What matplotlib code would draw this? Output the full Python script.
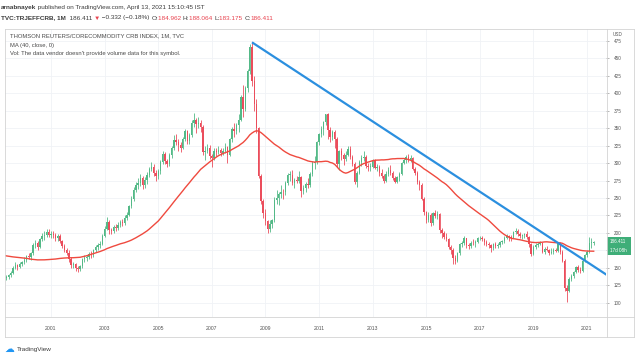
import numpy as np
import pandas as pd
import matplotlib
matplotlib.use("Agg")
import matplotlib.pyplot as plt
from matplotlib.lines import Line2D
from matplotlib.patches import Rectangle

plt.rcParams['font.family'] = ['Liberation Sans', 'DejaVu Sans']

W, H = 638, 355

# monthly bars, first visible one is Apr 1999
start_year, start_month = 1999, 4

# Jan 1996 .. Mar 1999 (left of the view), only used to seed the 40-month MA
closes_before = [158, 160, 163, 166, 168, 170, 168, 170, 172, 180, 190, 195,
                 198, 196, 194, 192, 196, 192, 190, 192, 190, 187, 182, 176,
                 172, 168, 166, 163, 158, 154, 150, 142, 144, 140, 136, 132,
                 134, 130, 133]

closes = [
    135, 137, 139, 143, 150, 154, 151, 155, 158,                    # 1999
    161, 167, 165, 171, 182, 186, 180, 191, 195, 197, 201, 197,     # 2000
    199, 197, 193, 195, 188, 181, 176, 171, 163, 154, 155, 150,     # 2001
    148, 152, 162, 164, 166, 170, 168, 175, 180, 183, 184, 196,     # 2002
    206, 216, 204, 203, 209, 207, 212, 216, 214, 222, 226, 238,     # 2003
    249, 262, 268, 271, 279, 268, 276, 283, 292, 295, 286, 281,     # 2004
    288, 302, 313, 303, 298, 311, 322, 333, 330, 326, 322, 335,     # 2005
    346, 332, 340, 358, 362, 356, 358, 352, 316, 318, 322, 310,     # 2006
    308, 318, 316, 319, 314, 318, 323, 312, 334, 349, 346, 355,     # 2007
    362, 395, 377, 408, 432, 467, 418, 385, 350, 282, 245, 229,     # 2008
    217, 206, 213, 218, 247, 250, 256, 259, 258, 271, 283, 283,     # 2009
    271, 276, 274, 280, 260, 264, 270, 268, 285, 300, 301, 330,     # 2010
    341, 349, 359, 370, 348, 337, 344, 335, 298, 317, 311, 306,     # 2011
    312, 320, 309, 299, 273, 286, 302, 307, 309, 296, 295, 295,     # 2012
    303, 293, 295, 286, 281, 275, 285, 290, 286, 279, 273, 280,     # 2013
    285, 300, 304, 309, 305, 308, 292, 286, 273, 268, 249, 230,     # 2014
    219, 226, 214, 228, 224, 227, 204, 200, 194, 191, 180, 176,     # 2015
    164, 160, 171, 184, 186, 192, 182, 181, 186, 185, 187, 192,     # 2016
    193, 191, 187, 184, 182, 178, 184, 181, 183, 187, 188, 193,     # 2017
    195, 194, 193, 201, 203, 199, 196, 197, 198, 194, 184, 170,     # 2018
    180, 183, 184, 185, 173, 177, 176, 171, 173, 176, 174, 185,     # 2019
    172, 160, 121, 117, 134, 138, 144, 151, 147, 146, 160, 168,     # 2020
    172, 186, 186.743, 186.411,                                     # 2021
]

highs = [
    138, 140, 141, 146, 152, 158, 156, 158, 160,
    165, 169, 171, 173, 185, 190, 188, 193, 200, 202, 205, 206,
    203, 202, 200, 199, 198, 190, 184, 179, 175, 165, 159, 157,
    153, 154, 164, 168, 169, 173, 174, 177, 183, 186, 188, 198,
    210, 223, 218, 207, 212, 213, 215, 219, 220, 225, 230, 240,
    253, 266, 273, 278, 284, 282, 280, 287, 295, 302, 298, 290,
    291, 305, 318, 316, 306, 314, 325, 340, 342, 335, 330, 338,
    349, 348, 343, 362, 372, 365, 366, 362, 354, 324, 328, 326,
    313, 321, 322, 325, 322, 321, 329, 325, 336, 352, 358, 358,
    370, 397, 412, 411, 435, 470, 473, 425, 392, 352, 285, 248,
    234, 219, 218, 220, 252, 262, 259, 268, 263, 275, 286, 289,
    290, 279, 281, 288, 282, 268, 273, 278, 287, 303, 310, 332,
    343, 353, 361, 371, 372, 352, 348, 347, 338, 319, 322, 315,
    318, 325, 324, 312, 301, 288, 305, 311, 317, 311, 300, 300,
    306, 306, 298, 297, 292, 284, 288, 295, 297, 288, 281, 282,
    287, 302, 308, 312, 313, 311, 309, 295, 288, 276, 271, 252,
    231, 230, 228, 230, 233, 231, 228, 207, 203, 200, 193, 182,
    178, 168, 173, 186, 189, 195, 193, 186, 188, 191, 190, 194,
    196, 196, 193, 190, 187, 184, 186, 187, 186, 189, 190, 195,
    199, 197, 197, 203, 207, 206, 201, 199, 200, 203, 195, 186,
    182, 185, 187, 189, 186, 180, 181, 177, 178, 178, 178, 186,
    187, 175, 162, 125, 137, 141, 146, 153, 154, 151, 162, 170,
    176, 194, 192, 188.064,
]

lows = [
    131, 133, 134, 137, 141, 148, 147, 149, 152,
    155, 158, 162, 161, 169, 178, 176, 178, 188, 190, 194, 194,
    193, 193, 189, 189, 186, 178, 172, 168, 158, 150, 149, 145,
    144, 145, 150, 158, 160, 163, 164, 165, 173, 176, 179, 182,
    194, 204, 199, 198, 200, 203, 204, 209, 210, 212, 219, 224,
    236, 246, 258, 263, 267, 263, 265, 270, 280, 288, 282, 275,
    277, 285, 298, 299, 294, 296, 307, 319, 326, 318, 316, 320,
    332, 327, 328, 337, 352, 343, 350, 345, 312, 305, 314, 306,
    294, 305, 310, 313, 310, 311, 315, 300, 310, 330, 338, 341,
    345, 360, 366, 375, 402, 428, 410, 375, 343, 278, 241, 222,
    212, 200, 201, 207, 216, 242, 240, 250, 249, 254, 268, 274,
    268, 265, 271, 272, 252, 255, 258, 264, 266, 282, 291, 299,
    326, 337, 340, 355, 335, 330, 333, 322, 295, 290, 305, 297,
    303, 310, 306, 296, 270, 266, 284, 296, 303, 293, 288, 289,
    293, 291, 288, 281, 279, 272, 273, 281, 283, 276, 271, 272,
    275, 283, 298, 300, 302, 302, 290, 283, 270, 261, 247, 225,
    214, 215, 210, 212, 221, 220, 200, 193, 191, 189, 177, 170,
    156, 155, 158, 168, 180, 183, 179, 177, 178, 183, 180, 185,
    190, 189, 183, 181, 178, 173, 176, 179, 178, 180, 184, 185,
    191, 188, 189, 192, 199, 196, 192, 191, 193, 191, 180, 167,
    168, 177, 180, 182, 171, 170, 174, 168, 170, 170, 172, 173,
    170, 158, 117, 101, 115, 131, 136, 142, 144, 142, 144, 158,
    166, 171, 178, 183.175,
]
last_open = 184.962

# hand-drawn trend line (from the 2008 top)
trend_dates = [2008.5, 2021.75]
trend_prices = [473, 139.5]

year_ticks = list(range(2001, 2022, 2))
price_ticks = list(range(100, 476, 25))

# ---------------------------------------------------------------------
n = len(closes)
t = np.array([start_year + (start_month - 1 + i) / 12 for i in range(n)])
c = np.array(closes, float)
hi = np.array(highs, float)
lo = np.array(lows, float)
o = np.array([closes_before[-1]] + closes[:-1], float)
o[-1] = last_open
ma = pd.Series(closes_before + closes).rolling(40).mean().to_numpy()[-n:]

UP, DOWN = '#53b987', '#eb4d5c'
GRID = '#f0f2f6'
FRAME = '#d3d3d3'
TXT = '#3c3c3c'


def fx(px):
    return px / W


def fy(py):
    return 1 - py / H


fig = plt.figure(figsize=(W / 100, H / 100), dpi=100)
fig.patch.set_facecolor('white')

ax = fig.add_axes([fx(5), fy(317), fx(606) - fx(5), fy(29) - fy(317)])
ax.set_xlim(1999.2836, 2021.709)
ax.set_ylim(79.5, 492.1)

col = np.where(c >= o, UP, DOWN)
ax.vlines(t, lo, hi, colors=col, lw=0.6, zorder=3)
body = np.maximum(np.abs(c - o), 0.9)
ax.bar(t, body, bottom=np.minimum(c, o), width=0.05, color=col, lw=0, zorder=4)

ax.plot(t, ma, color='#ef4a3f', lw=1.0, zorder=5)
ax.plot(trend_dates, trend_prices, color='#2b8fdf', lw=1.6, zorder=6,
        solid_capstyle='butt')

ax.set_xticks(year_ticks)
ax.set_xticklabels([str(y) for y in year_ticks])
ax.set_yticks(price_ticks)
# the 175 label sits under the last-price marker
ax.set_yticklabels(['' if p == 175 else str(p) for p in price_ticks])
ax.grid(True, color=GRID, lw=0.6, zorder=0)
ax.set_axisbelow(True)
for s in ax.spines.values():
    s.set_visible(False)
ax.yaxis.tick_right()
ax.tick_params(axis='y', length=2, width=0.5, color='#9a9a9a', labelsize=3.3,
               labelcolor='#555555', pad=3.5)
ax.tick_params(axis='x', length=0, labelsize=3.7, labelcolor='#555555', pad=6.5)
ax.set_facecolor('white')

# frame of the chart, price scale and time scale
for (x0, y0, x1, y1) in [(5, 29, 634, 29), (5, 337, 634, 337), (5, 29, 5, 337),
                         (634, 29, 634, 337), (606.5, 29, 606.5, 337),
                         (5, 317, 634, 317)]:
    fig.add_artist(Line2D([fx(x0), fx(x1)], [fy(y0), fy(y1)], color=FRAME, lw=0.6))

fig.text(fx(613), fy(34.5), 'USD', fontsize=3.3, color='#555555', va='center')

# last price label
fig.add_artist(Rectangle((fx(607), fy(255)), fx(24), fy(236.5) - fy(255),
                         facecolor='#3fae78', edgecolor='none'))
fig.text(fx(610), fy(241.5), '186.411', fontsize=3.3, color='white', va='center')
fig.text(fx(610), fy(250), '17d 08h', fontsize=3.3, color='white', va='center')

# legend inside the pane
for yy, s in [(36, 'THOMSON REUTERS/CORECOMMODITY CRB INDEX, 1M, TVC'),
              (45, 'MA (40, close, 0)'),
              (54, "Vol: The data vendor doesn't provide volume data for this symbol.")]:
    fig.text(fx(10), fy(yy), s, fontsize=4.2, color='#4a4a4a', va='center')


# header
def chain(x, y, parts, size=4.6):
    first = fig.text(fx(x), fy(y), parts[0][0], color=parts[0][1], fontsize=size,
                     fontweight=parts[0][2], va='center')
    prev = first
    for s, cl, wt in parts[1:]:
        prev = ax.annotate(s, xy=(1, 0.5), xycoords=prev, xytext=(0, 0),
                           textcoords='offset points', va='center', ha='left',
                           fontsize=size, color=cl, fontweight=wt,
                           annotation_clip=False)


RED = '#e8434f'
chain(1, 7.5, [('arnabnayek', TXT, 'bold'),
               (' published on TradingView.com, April 13, 2021 15:10:45 IST', TXT, 'normal')])
chain(1, 18, [('TVC:TRJEFFCRB, 1M', TXT, 'bold'),
              ('  186.411 ', TXT, 'normal'),
              ('▼', RED, 'normal'),
              (' \u22120.332 (\u22120.18%) ', TXT, 'normal'),
              ('O:', TXT, 'normal'), ('184.962 ', RED, 'normal'),
              ('H:', TXT, 'normal'), ('188.064 ', RED, 'normal'),
              ('L:', TXT, 'normal'), ('183.175 ', RED, 'normal'),
              ('C:', TXT, 'normal'), ('186.411', RED, 'normal')])

# footer logo
fig.text(fx(4), fy(349), '\u2601', fontsize=7, color='#2196f3', va='center',
         family=['DejaVu Sans'])
fig.text(fx(17), fy(349.5), 'TradingView', fontsize=4.6, color=TXT, va='center')

fig.savefig('out.png', dpi=100, facecolor='white')
